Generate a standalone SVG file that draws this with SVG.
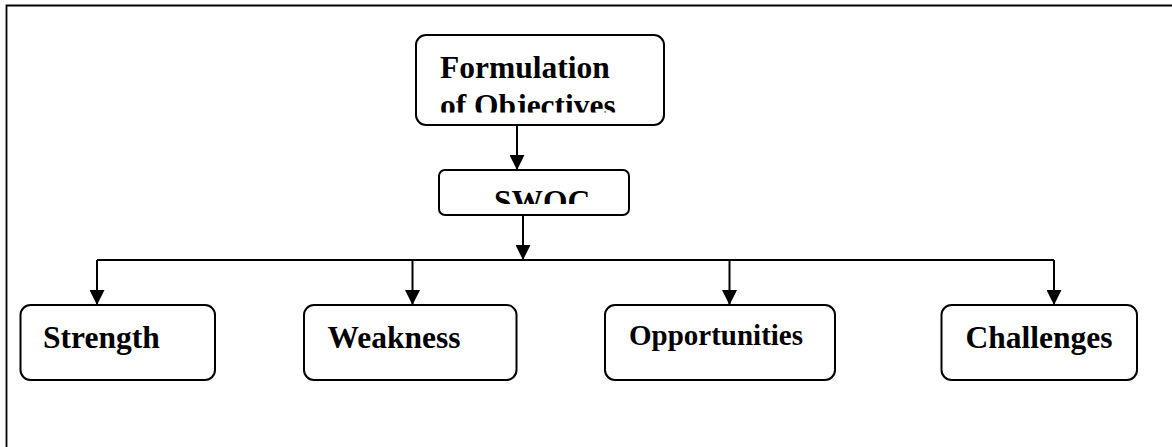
<svg xmlns="http://www.w3.org/2000/svg" width="1172" height="447" viewBox="0 0 1172 447">
<style>
.box{fill:#fff;stroke:#000;stroke-width:2}
.lbl{font-family:"Liberation Serif","Times New Roman",serif;font-weight:bold;font-size:31.5px;fill:#000}
.con{fill:none;stroke:#000;stroke-width:2}
</style>
<defs>
<marker id="ah" markerWidth="15" markerHeight="15" refX="15" refY="7.5" orient="auto" markerUnits="userSpaceOnUse">
<path d="M0,0 L15,7.5 L0,15 Z" fill="#000"/>
</marker>
<clipPath id="clipF"><rect x="416" y="35" width="248" height="77.5"/></clipPath>
<clipPath id="clipS"><rect x="439" y="170" width="190" height="34"/></clipPath>
</defs>
<rect width="1172" height="447" fill="#fff"/>
<g id="frame">
<path d="M6.5,447 L6.5,5.5 L1172,5.5" fill="none" stroke="#000" stroke-width="1.8"/>
</g>
<g id="connectors">
<path class="con" d="M517,125 L517,170" marker-end="url(#ah)"/>
<path class="con" d="M523,215 L523,260" marker-end="url(#ah)"/>
<path class="con" d="M97,260 L1054,260"/>
<path class="con" d="M97,260 L97,305" marker-end="url(#ah)"/>
<path class="con" d="M412.5,260 L412.5,305" marker-end="url(#ah)"/>
<path class="con" d="M729.5,260 L729.5,305" marker-end="url(#ah)"/>
<path class="con" d="M1054,260 L1054,305" marker-end="url(#ah)"/>
</g>
<g id="formulation">
<rect class="box" x="416" y="35" width="248" height="90" rx="10"/>
<g clip-path="url(#clipF)">
<text class="lbl" x="440" y="78" font-size="32">Formulation</text>
<text class="lbl" x="440" y="115.5">of Objectives</text>
</g>
</g>
<g id="swoc">
<rect class="box" x="439" y="170" width="190" height="45" rx="6"/>
<g clip-path="url(#clipS)">
<text class="lbl" x="494" y="211.5">SWOC</text>
</g>
</g>
<g id="strength">
<rect class="box" x="20.5" y="305" width="194.5" height="75" rx="10"/>
<text class="lbl" x="43" y="348">Strength</text>
</g>
<g id="weakness">
<rect class="box" x="304" y="305" width="212.5" height="75" rx="10"/>
<text class="lbl" x="327.5" y="348">Weakness</text>
</g>
<g id="opportunities">
<rect class="box" x="605" y="305" width="230" height="75" rx="10"/>
<text class="lbl" x="629" y="345" style="font-size:29px">Opportunities</text>
</g>
<g id="challenges">
<rect class="box" x="941.5" y="305" width="195.5" height="75" rx="10"/>
<text class="lbl" x="965.5" y="348">Challenges</text>
</g>
</svg>
